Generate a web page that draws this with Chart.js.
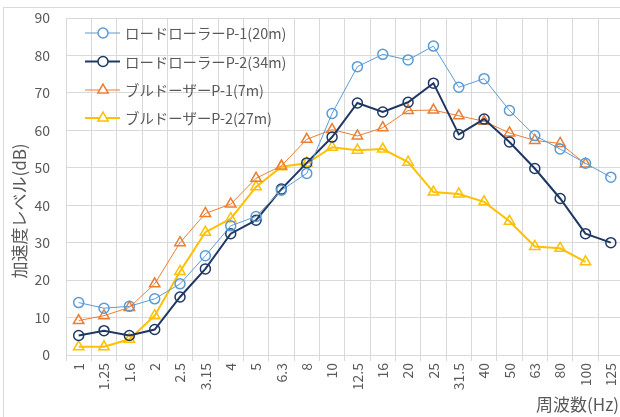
<!DOCTYPE html>
<html>
<head>
<meta charset="utf-8">
<script src="https://cdn.jsdelivr.net/npm/chart.js@4.4.1/dist/chart.umd.min.js"></script>
<style>
  html, body { margin: 0; padding: 0; background: #fff; overflow: hidden; }
  #wrap { width: 631px; height: 417px; }
</style>
</head>
<body>
<div id="wrap"><canvas id="chart"></canvas></div>
<script>
var categories = ['1', '1.25', '1.6', '2', '2.5', '3.15', '4', '5', '6.3', '8', '10', '12.5', '16', '20', '25', '31.5', '40', '50', '63', '80', '100', '125'];
var rollerP1 = [14, 12.5, 13, 15, 19, 26.5, 34.5, 37, 44, 48.5, 64.5, 77, 80.3, 78.8, 82.5, 71.5, 73.8, 65.3, 58.6, 55, 51.2, 47.5];
var rollerP2 = [5.2, 6.5, 5.2, 6.8, 15.5, 23, 32.4, 36, 44.3, 51.3, 58.2, 67.3, 64.9, 67.5, 72.6, 58.9, 63, 56.9, 49.8, 41.8, 32.4, 30];
var dozerP1 = [9.2, 10.5, 12.7, 19, 30, 37.8, 40.3, 47.2, 50.5, 57.6, 60.2, 58.5, 60.7, 65.3, 65.4, 63.9, 62.4, 59.3, 57.3, 56.5, 51, null];
var dozerP2 = [2.2, 2.2, 4.2, 10.5, 22.3, 32.8, 36.4, 44.9, 50.3, 51.2, 55.5, 54.7, 55, 51.5, 43.5, 43, 40.9, 35.7, 29, 28.5, 24.9, null];
var seriesNames = ['ロードローラーP-1(20m)', 'ロードローラーP-2(34m)', 'ブルドーザーP-1(7m)', 'ブルドーザーP-2(27m)'];
var yTicks = [0, 10, 20, 30, 40, 50, 60, 70, 80, 90];
var xTitle = '周波数(Hz)';
var yTitle = '加速度レベル(dB)';

var FONT = "'Noto Sans CJK JP', 'Noto Sans', sans-serif";
var TXT = '#595959';
var GRID = '#d9d9d9';

function ds(label, data, color, width, style, radius) {
  return {
    label: label,
    data: data,
    borderColor: color,
    borderWidth: width,
    pointStyle: style,
    pointRadius: radius,
    pointBorderWidth: 1.5,
    pointBorderColor: color,
    pointBackgroundColor: 'rgba(255,255,255,0)',
    pointHoverRadius: radius,
    tension: 0,
    spanGaps: false
  };
}

// chart frame, axis titles and the legend inside the plot area
var extras = {
  id: 'extras',
  beforeDraw: function (chart) {
    var ctx = chart.ctx;
    ctx.save();
    ctx.strokeStyle = GRID;
    ctx.lineWidth = 1;
    ctx.strokeRect(3.5, 7.5, 1000, 1000);
    ctx.restore();
  },
  afterDatasetsDraw: function (chart) {
    var ctx = chart.ctx;
    ctx.save();
    ctx.fillStyle = TXT;
    ctx.textBaseline = 'middle';
    ctx.font = '17px ' + FONT;
    ctx.textAlign = 'right';
    ctx.fillText(xTitle, 619, 405);
    ctx.translate(20, 211);
    ctx.rotate(-Math.PI / 2);
    ctx.textAlign = 'center';
    ctx.font = '17px ' + FONT;
    ctx.fillText(yTitle, 0, 0);
    ctx.restore();

    var x0 = 85, x1 = 120, tx = 125;
    var ys = [33, 61.5, 90, 118];
    chart.data.datasets.forEach(function (d, i) {
      var y = ys[i];
      ctx.save();
      ctx.strokeStyle = d.borderColor;
      ctx.lineWidth = d.borderWidth;
      ctx.beginPath();
      ctx.moveTo(x0, y);
      ctx.lineTo(x1, y);
      ctx.stroke();
      ctx.fillStyle = '#fff';
      ctx.lineWidth = d.pointBorderWidth;
      Chart.helpers.drawPoint(ctx, { pointStyle: d.pointStyle, radius: d.pointRadius, borderWidth: d.pointBorderWidth, rotation: 0 }, (x0 + x1) / 2 + 0.5, y);
      ctx.fillStyle = TXT;
      ctx.font = '14.4px ' + FONT;
      ctx.textBaseline = 'middle';
      ctx.textAlign = 'left';
      ctx.fillText(d.label, tx, y + 1);
      ctx.restore();
    });
  }
};

new Chart(document.getElementById('chart'), {
  type: 'line',
  data: {
    labels: categories,
    datasets: [
      ds(seriesNames[0], rollerP1, '#5b9bd5', 1, 'circle', 5),
      ds(seriesNames[1], rollerP2, '#1f3864', 2, 'circle', 5),
      ds(seriesNames[2], dozerP1, '#ed7d31', 1, 'triangle', 6),
      ds(seriesNames[3], dozerP2, '#ffc000', 2, 'triangle', 6)
    ]
  },
  options: {
    responsive: true,
    maintainAspectRatio: false,
    animation: false,
    layout: { padding: { top: 18, left: 0, right: 0, bottom: 0 } },
    plugins: {
      legend: { display: false },
      tooltip: { enabled: false }
    },
    scales: {
      x: {
        type: 'category',
        offset: true,
        grid: { offset: true, color: GRID, lineWidth: 1, drawTicks: true, tickLength: 6, tickColor: GRID },
        border: { color: GRID },
        ticks: {
          color: TXT,
          font: { family: FONT, size: 14 },
          minRotation: 90,
          maxRotation: 90,
          autoSkip: false,
          padding: 2
        },
        afterFit: function (scale) { scale.height = 62; }
      },
      y: {
        min: 0,
        max: 90,
        afterBuildTicks: function (scale) {
          scale.ticks = yTicks.map(function (v) { return { value: v }; });
        },
        grid: { color: GRID, lineWidth: 1, drawTicks: false },
        border: { color: GRID },
        ticks: {
          color: TXT,
          font: { family: FONT, size: 14 },
          padding: 16
        },
        afterFit: function (scale) {
          scale.width = 66;
          scale.paddingTop = 0;
          scale.paddingBottom = 0;
        }
      }
    }
  },
  plugins: [extras]
});
</script>
</body>
</html>
